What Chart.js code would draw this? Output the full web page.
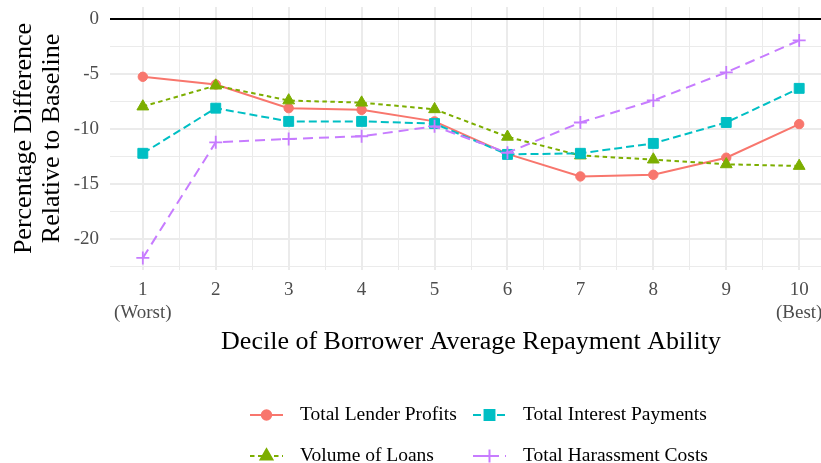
<!DOCTYPE html>
<html>
<head>
<meta charset="utf-8">
<script src="https://cdn.jsdelivr.net/npm/chart.js@4"></script>
<style>
  html, body { margin: 0; padding: 0; background: #fff; overflow: hidden; width: 821px; height: 463px; }
  canvas { display: block; }
</style>
</head>
<body>
<!-- the reference plot is cut off at the right edge, so the canvas runs a bit past the window -->
<canvas id="chart" width="832" height="463"></canvas>
<script>
const deciles = [1, 2, 3, 4, 5, 6, 7, 8, 9, 10];
const tickLabels = [["1", "(Worst)"], ["2"], ["3"], ["4"], ["5"], ["6"], ["7"], ["8"], ["9"], ["10", "(Best)"]];
const lenderProfits = [-5.25, -5.95, -8.1, -8.25, -9.3, -12.25, -14.3, -14.15, -12.6, -9.55];
const loanVolume = [-7.95, -6.05, -7.4, -7.6, -8.2, -10.7, -12.4, -12.77, -13.2, -13.35];
const interestPayments = [-12.2, -8.1, -9.3, -9.3, -9.5, -12.3, -12.2, -11.3, -9.4, -6.3];
const harassmentCosts = [-21.7, -11.2, -10.9, -10.65, -9.75, -12.15, -9.4, -7.4, -4.85, -1.95];

const serif = "'Liberation Serif', 'Times New Roman', serif";

function toPoints(values) {
  return values.map((v, i) => ({ x: deciles[i], y: v }));
}

const series = [
  { label: "Total Lender Profits", data: lenderProfits, color: "#F8766D", dash: [], style: "circle", radius: 4.7, order: 3 },
  { label: "Volume of Loans", data: loanVolume, color: "#7CAE00", dash: [4.5, 3.5], style: "triangle", radius: 6.8, order: 2 },
  { label: "Total Interest Payments", data: interestPayments, color: "#00BFC4", dash: [8, 4], style: "rect", radius: 7, order: 1 },
  { label: "Total Harassment Costs", data: harassmentCosts, color: "#C77CFF", dash: [10, 6], style: "cross", radius: 6.5, order: 0 }
];

// legend rows, ggplot fills columns first
const legendRows = [["Total Lender Profits", "Total Interest Payments"], ["Volume of Loans", "Total Harassment Costs"]];

const zeroLine = {
  id: "zeroLine",
  beforeDatasetsDraw(chart) {
    const y = chart.scales.y.getPixelForValue(0);
    const ctx = chart.ctx;
    ctx.save();
    ctx.strokeStyle = "#000";
    ctx.lineWidth = 2.2;
    ctx.beginPath();
    ctx.moveTo(chart.chartArea.left, y);
    ctx.lineTo(chart.chartArea.right, y);
    ctx.stroke();
    ctx.restore();
  }
};

const bottomLegend = {
  id: "bottomLegend",
  afterDraw(chart) {
    const ctx = chart.ctx;
    const colX = [250, 473];
    const rowY = [415, 456];
    ctx.save();
    legendRows.forEach((row, r) => {
      row.forEach((name, c) => {
        const s = series.find(d => d.label === name);
        const x0 = colX[c], y = rowY[r];
        ctx.strokeStyle = s.color;
        ctx.fillStyle = s.color;
        ctx.lineWidth = 2;
        ctx.setLineDash(s.dash);
        ctx.beginPath();
        ctx.moveTo(x0, y);
        ctx.lineTo(x0 + 33, y);
        ctx.stroke();
        ctx.setLineDash([]);
        Chart.helpers.drawPoint(ctx, {
          pointStyle: s.style,
          radius: s.radius,
          borderWidth: s.style === "cross" ? 1.8 : 1,
          rotation: 0
        }, x0 + 16.5, y);
        ctx.fillStyle = "#000";
        ctx.font = "19.5px " + serif;
        ctx.textBaseline = "middle";
        ctx.textAlign = "left";
        ctx.fillText(name, x0 + 50, y);
      });
    });
    ctx.restore();
  }
};

new Chart(document.getElementById("chart"), {
  type: "line",
  data: {
    datasets: series.map(s => ({
      label: s.label,
      data: toPoints(s.data),
      order: s.order,
      borderColor: s.color,
      backgroundColor: s.color,
      borderWidth: 2,
      borderDash: s.dash,
      pointStyle: s.style,
      pointRadius: s.radius,
      pointBorderWidth: s.style === "cross" ? 1.8 : 1,
      pointBorderColor: s.color,
      pointBackgroundColor: s.color,
      tension: 0
    }))
  },
  options: {
    responsive: false,
    animation: false,
    devicePixelRatio: 1,
    layout: { autoPadding: false, padding: { top: 7, right: 0, bottom: 100, left: 0 } },
    plugins: {
      legend: { display: false },
      tooltip: { enabled: false }
    },
    scales: {
      x: {
        type: "linear",
        min: 0.55,
        max: 10.45,
        border: { display: false },
        grid: {
          color: "#ebebeb",
          lineWidth: c => Number.isInteger(c.tick.value) ? 2 : 1,
          drawTicks: true,
          tickLength: 9,
          tickColor: "rgba(0,0,0,0)"
        },
        ticks: {
          stepSize: 0.5,
          includeBounds: false,
          autoSkip: false,
          maxRotation: 0,
          padding: 0,
          color: "#4d4d4d",
          font: { family: serif, size: 19, lineHeight: "22.7px" },
          callback: v => Number.isInteger(v) ? tickLabels[deciles.indexOf(v)] : ""
        },
        title: {
          display: true,
          text: "Decile of Borrower Average Repayment Ability",
          color: "#000",
          font: { family: serif, size: 26, lineHeight: "30px" },
          padding: { top: 0, bottom: 6 }
        },
        afterFit(scale) {
          scale.height = 93;
        }
      },
      y: {
        min: -22.8,
        max: 1.09,
        border: { display: false },
        grid: {
          color: "#ebebeb",
          lineWidth: c => c.tick.value % 5 === 0 ? 2 : 1,
          drawTicks: false
        },
        ticks: {
          stepSize: 2.5,
          includeBounds: false,
          padding: 11,
          color: "#4d4d4d",
          font: { family: serif, size: 19 },
          callback: v => v % 5 === 0 ? String(v) : ""
        },
        title: {
          display: true,
          text: ["Percentage Difference", "Relative to Baseline"],
          color: "#000",
          font: { family: serif, size: 26, lineHeight: "28px" },
          padding: { top: 10, bottom: 0 }
        },
        afterFit(scale) {
          scale.width = 110;
          scale.paddingTop = 0;
          scale.paddingBottom = 0;
        }
      }
    }
  },
  plugins: [zeroLine, bottomLegend]
});
</script>
</body>
</html>
